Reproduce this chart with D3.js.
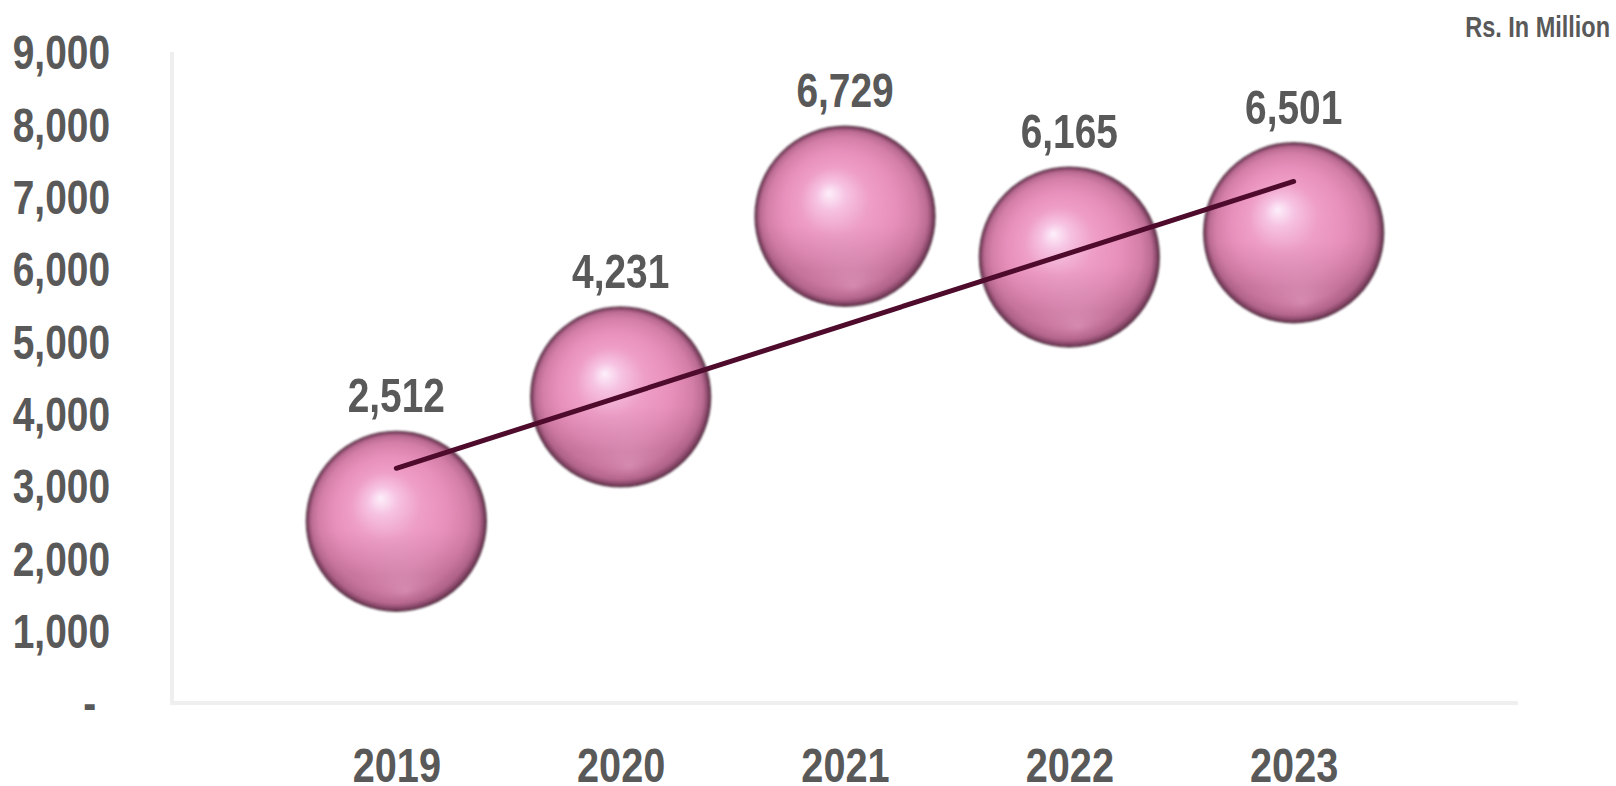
<!DOCTYPE html>
<html>
<head>
<meta charset="utf-8">
<script src="https://cdn.jsdelivr.net/npm/d3@7"></script>
<style>
  html, body { margin: 0; padding: 0; background: #ffffff; }
  svg { display: block; }
  .lbl { font-family: "Liberation Sans", Arial, sans-serif; font-weight: bold; fill: #595959; }
</style>
</head>
<body>
<svg id="chart" width="1616" height="786"></svg>
<script>
// Revenue by year (Rs. In Million)
const years = [2019, 2020, 2021, 2022, 2023];
const values = [2512, 4231, 6729, 6165, 6501];
const yTicks = [0, 1000, 2000, 3000, 4000, 5000, 6000, 7000, 8000, 9000];
const unitLabel = "Rs. In Million";

const svg = d3.select("#chart");
const plot = { left: 172, right: 1518, top: 52, bottom: 703 };
const narrow = "scale(0.81,1)"; // condensed lettering

const x = d3.scaleLinear().domain([2018, 2024]).range([plot.left, plot.right]);
const y = d3.scaleLinear().domain([0, 9000]).range([plot.bottom, plot.top]);
const bubbleR = 90;

// sphere shading
const defs = svg.append("defs");
const g1 = defs.append("radialGradient").attr("id", "sphere")
  .attr("cx", "50%").attr("cy", "50%").attr("r", "50%")
  .attr("fx", "41%").attr("fy", "37%");
[
  [0, "#fdf0fb"], [0.16, "#f7c4e3"], [0.38, "#ef9fc8"], [0.64, "#e68fba"],
  [0.83, "#d47fa8"], [0.93, "#bb6b92"], [0.98, "#804262"], [1, "#4a2236"]
].forEach(([o, c]) => g1.append("stop").attr("offset", o).attr("stop-color", c));

const g2 = defs.append("radialGradient").attr("id", "sphereGlow")
  .attr("cx", "50%").attr("cy", "50%").attr("r", "50%")
  .attr("fx", "55%").attr("fy", "90%");
[
  [0, "#f2b0d2", 0.45], [0.3, "#e9a0c4", 0.2], [0.6, "#e090bb", 0.0], [1, "#e090bb", 0.0]
].forEach(([o, c, a]) => g2.append("stop").attr("offset", o).attr("stop-color", c).attr("stop-opacity", a));

const g3 = defs.append("linearGradient").attr("id", "sphereShade")
  .attr("x1", 0).attr("y1", 0).attr("x2", 0).attr("y2", 1);
[
  [0, "#6a2a4a", 0], [0.55, "#6a2a4a", 0], [0.8, "#6a2a4a", 0.15], [0.9, "#6a2a4a", 0.1], [1, "#6a2a4a", 0]
].forEach(([o, c, a]) => g3.append("stop").attr("offset", o).attr("stop-color", c).attr("stop-opacity", a));

const blur = defs.append("filter").attr("id", "soft");
blur.append("feGaussianBlur").attr("stdDeviation", 0.8);

// plot-area border (left and bottom)
svg.append("line")
  .attr("x1", plot.left).attr("x2", plot.left)
  .attr("y1", plot.top).attr("y2", plot.bottom)
  .attr("stroke", "#efefef").attr("stroke-width", 4);
svg.append("line")
  .attr("x1", plot.left - 2).attr("x2", plot.right)
  .attr("y1", plot.bottom).attr("y2", plot.bottom)
  .attr("stroke", "#efefef").attr("stroke-width", 4);

// y axis
const yAxis = svg.append("g")
  .attr("transform", "translate(110,0)")
  .call(d3.axisLeft(y).tickValues(yTicks).tickSize(0).tickPadding(0)
    .tickFormat(d => d === 0 ? "-" : d3.format(",")(d)));
yAxis.select(".domain").remove();
yAxis.selectAll("text")
  .attr("class", "lbl")
  .attr("font-size", 48)
  .attr("x", d => d === 0 ? -17 : 0)
  .attr("dy", "0.35em")
  .attr("transform", narrow);

// x axis
const xAxis = svg.append("g")
  .attr("transform", "translate(0,782)")
  .call(d3.axisBottom(x).tickValues(years).tickSize(0).tickPadding(0)
    .tickFormat(d3.format("d")));
xAxis.select(".domain").remove();
xAxis.selectAll("text")
  .attr("class", "lbl")
  .attr("font-size", 49)
  .attr("y", 0)
  .attr("dy", 0)
  .attr("transform", narrow);

// bubbles
const data = years.map((yr, i) => ({ yr, v: values[i] }));
const bubbles = svg.append("g").attr("filter", "url(#soft)");
const ball = bubbles.selectAll("g.ball").data(data).join("g")
  .attr("class", "ball")
  .attr("transform", d => `translate(${x(d.yr)},${y(d.v)})`);
ball.append("circle").attr("r", bubbleR).attr("fill", "url(#sphere)");
ball.append("circle").attr("r", bubbleR - 2).attr("fill", "url(#sphereGlow)");
ball.append("circle").attr("r", bubbleR).attr("fill", "url(#sphereShade)")
  .attr("stroke", "#3a1828").attr("stroke-opacity", 0.75).attr("stroke-width", 1.3);

// value labels
svg.selectAll("g.val").data(data).join("g")
  .attr("class", "val")
  .attr("transform", d => `translate(${x(d.yr)},${y(d.v) - bubbleR - 19})`)
  .append("text")
  .attr("class", "lbl")
  .attr("text-anchor", "middle")
  .attr("font-size", 48)
  .attr("transform", narrow)
  .text(d => d3.format(",")(d.v));

// linear trend line (least squares over the series)
const idx = years.map((_, i) => i + 1);
const mx = d3.mean(idx), my = d3.mean(values);
const slope = d3.sum(idx, (t, i) => (t - mx) * (values[i] - my)) / d3.sum(idx, t => (t - mx) ** 2);
const icpt = my - slope * mx;
const trend = [
  { yr: years[0], v: icpt + slope * idx[0] },
  { yr: years[years.length - 1], v: icpt + slope * idx[idx.length - 1] }
];
svg.append("path")
  .datum(trend)
  .attr("d", d3.line().x(d => x(d.yr)).y(d => y(d.v)))
  .attr("fill", "none")
  .attr("stroke", "#4e0b2b")
  .attr("stroke-width", 5)
  .attr("stroke-linecap", "round");

// unit label
svg.append("g")
  .attr("transform", "translate(1610,37)")
  .append("text")
  .attr("class", "lbl")
  .attr("text-anchor", "end")
  .attr("font-size", 29)
  .attr("transform", narrow)
  .text(unitLabel);
</script>
</body>
</html>
